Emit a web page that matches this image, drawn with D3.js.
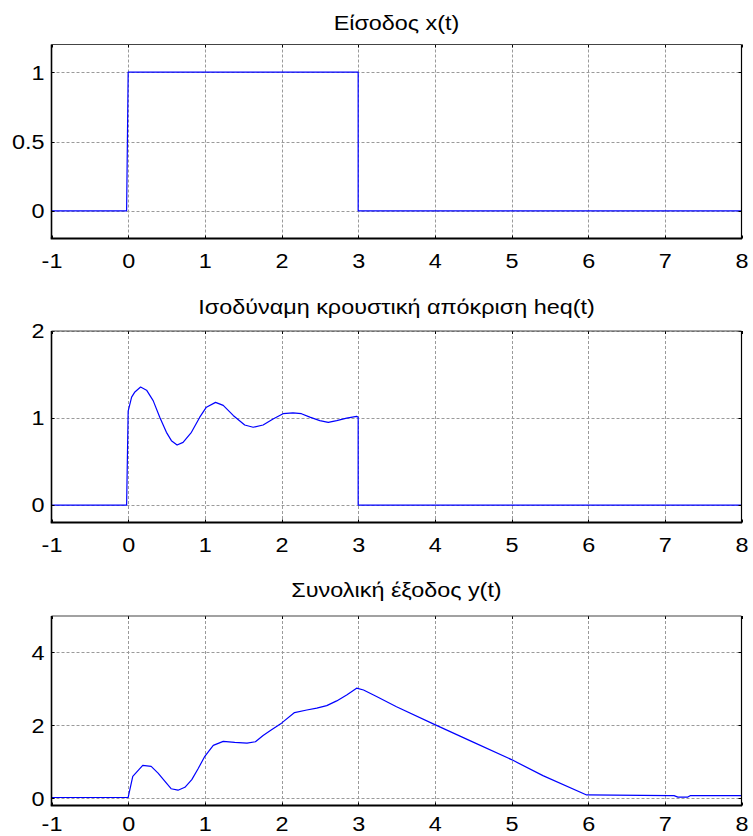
<!DOCTYPE html>
<html>
<head>
<meta charset="utf-8">
<script src="https://cdn.jsdelivr.net/npm/d3@7/dist/d3.min.js"></script>
<style>
  html, body { margin: 0; padding: 0; background: #fff; }
  svg { display: block; }
  text { font-family: "Liberation Sans", Arial, Helvetica, sans-serif; fill: #000; }
</style>
</head>
<body>
<script>
// ---------- data ----------
const titles = ["Είσοδος x(t)", "Ισοδύναμη κρουστική απόκριση heq(t)", "Συνολική έξοδος y(t)"];
const xTickValues = [-1, 0, 1, 2, 3, 4, 5, 6, 7, 8];
const yTicks1 = [0, 0.5, 1];
const yTicks2 = [0, 1, 2];
const yTicks3 = [0, 2, 4];

// Input x(t)
const tX    = [-1, -0.02, 0.0, 3.0, 3.0, 8];
const xVals = [ 0,  0,    1,   1,   0,   0];

// Equivalent impulse response heq(t)
const tH    = [-1, -0.02, 0.0, 0.045, 0.088, 0.162, 0.24, 0.326, 0.412, 0.499, 0.564, 0.638, 0.716, 0.825, 0.934, 1.02, 1.14, 1.24, 1.37, 1.52, 1.63, 1.76, 1.89, 2.02, 2.15, 2.26, 2.37, 2.50, 2.61, 2.72, 2.85, 2.98, 3.0, 3.0, 8];
const hVals = [ 0,  0,    1.08, 1.24, 1.30, 1.356, 1.32, 1.20, 1.01, 0.836, 0.74, 0.69, 0.72, 0.836, 1.01, 1.125, 1.18, 1.145, 1.03, 0.92, 0.894, 0.92, 0.99, 1.05, 1.06, 1.05, 1.01, 0.97, 0.95, 0.97, 1.0, 1.02, 1.01, 0, 0];

// Total output y(t)
const tY    = [-1, 0.0, 0.06, 0.19, 0.30, 0.39, 0.48, 0.56, 0.65, 0.74, 0.83, 0.91, 1.0, 1.11, 1.24, 1.39, 1.55, 1.66, 1.76, 1.87, 2.0, 2.17, 2.33, 2.46, 2.59, 2.72, 2.85, 2.98, 3.07, 3.24, 3.5, 4.0, 4.5, 5.0, 5.41, 5.98, 7.06, 7.12, 7.17, 7.30, 7.33, 8];
const yVals = [0.02, 0.02, 0.60, 0.90, 0.875, 0.69, 0.46, 0.26, 0.22, 0.30, 0.51, 0.80, 1.15, 1.45, 1.56, 1.53, 1.51, 1.55, 1.72, 1.88, 2.06, 2.35, 2.42, 2.47, 2.54, 2.67, 2.83, 3.02, 2.97, 2.79, 2.51, 2.02, 1.54, 1.06, 0.62, 0.09, 0.07, 0.07, 0.03, 0.03, 0.07, 0.07];

// ---------- layout ----------
const W = 753, H = 836;
const left = 51.5, right = 741.5;
const panels = [
  { title: titles[0], t: tX, v: xVals, yDomain: [-0.2, 1.2], yTicks: yTicks1, top: 44.5, bottom: 238.5, titleY: 29.5, labelOff: 29.5 },
  { title: titles[1], t: tH, v: hVals, yDomain: [-0.2, 2],   yTicks: yTicks2, top: 331,  bottom: 522.5, titleY: 313.5, labelOff: 29.5 },
  { title: titles[2], t: tY, v: yVals, yDomain: [-0.2, 5],   yTicks: yTicks3, top: 616,  bottom: 805.5, titleY: 597, labelOff: 25.5 }
];
const FS = 19.5, SX = 1.2;

const svg = d3.select("body").append("svg").attr("width", W).attr("height", H);

const x = d3.scaleLinear().domain([-1, 8]).range([left, right]);

panels.forEach(p => {
  const y = d3.scaleLinear().domain(p.yDomain).range([p.bottom, p.top]);
  const g = svg.append("g");

  // grid
  g.append("g").selectAll("line").data(xTickValues.filter(d => d > -1 && d < 8)).join("line")
    .attr("x1", d => Math.round(x(d)) + 0.5).attr("x2", d => Math.round(x(d)) + 0.5)
    .attr("y1", p.top).attr("y2", p.bottom)
    .attr("stroke", "#9a9a9a").attr("stroke-width", 1).attr("stroke-dasharray", "3,2");
  g.append("g").selectAll("line").data(p.yTicks).join("line")
    .attr("x1", left).attr("x2", right)
    .attr("y1", d => Math.round(y(d)) + 0.5).attr("y2", d => Math.round(y(d)) + 0.5)
    .attr("stroke", "#9a9a9a").attr("stroke-width", 1).attr("stroke-dasharray", "3,2");

  // data line
  const pts = p.t.map((t, i) => [t, p.v[i]]);
  g.append("path").datum(pts)
    .attr("d", d3.line().x(d => x(d[0])).y(d => y(d[1])))
    .attr("fill", "none").attr("stroke", "#0000ff").attr("stroke-width", 1.2)
    .attr("stroke-linejoin", "round");

  // inner ticks
  const tk = 3;
  const tg = g.append("g").attr("stroke", "#000").attr("stroke-width", 1);
  xTickValues.forEach(d => {
    const xx = Math.round(x(d)) + 0.5;
    tg.append("line").attr("x1", xx).attr("x2", xx).attr("y1", p.bottom).attr("y2", p.bottom - tk);
    tg.append("line").attr("x1", xx).attr("x2", xx).attr("y1", p.top).attr("y2", p.top + tk);
  });
  p.yTicks.forEach(d => {
    const yy = Math.round(y(d)) + 0.5;
    tg.append("line").attr("x1", left).attr("x2", left + tk).attr("y1", yy).attr("y2", yy);
    tg.append("line").attr("x1", right).attr("x2", right - tk).attr("y1", yy).attr("y2", yy);
  });

  // box
  g.append("line").attr("x1", left).attr("x2", right).attr("y1", p.top).attr("y2", p.top).attr("stroke", "#444").attr("stroke-width", 1.2);
  g.append("line").attr("x1", right).attr("x2", right).attr("y1", p.top).attr("y2", p.bottom).attr("stroke", "#000").attr("stroke-width", 1.2);
  g.append("line").attr("x1", left).attr("x2", left).attr("y1", p.top).attr("y2", p.bottom).attr("stroke", "#000").attr("stroke-width", 1.6);
  g.append("line").attr("x1", left - 0.8).attr("x2", right + 0.6).attr("y1", p.bottom).attr("y2", p.bottom).attr("stroke", "#000").attr("stroke-width", 1.8);

  // axes labels via d3 axes
  const ax = g.append("g").attr("transform", `translate(0,${p.bottom})`)
    .call(d3.axisBottom(x).tickValues(xTickValues).tickFormat(d => String(d)).tickSize(0));
  ax.select(".domain").remove();
  ax.selectAll("text")
    .attr("y", null).attr("dy", null)
    .attr("text-anchor", "middle")
    .attr("transform", `translate(0,${p.labelOff}) scale(${SX},1)`)
    .style("font-size", FS + "px").style("font-family", null);

  const ay = g.append("g").attr("transform", `translate(${left},0)`)
    .call(d3.axisLeft(y).tickValues(p.yTicks).tickFormat(d => String(d)).tickSize(0));
  ay.select(".domain").remove();
  ay.selectAll("text")
    .attr("x", null).attr("dy", "0.35em")
    .attr("text-anchor", "end")
    .attr("transform", `translate(-7,0) scale(${SX},1)`)
    .style("font-size", FS + "px").style("font-family", null);
  ax.attr("font-family", null).attr("font-size", null);
  ay.attr("font-family", null).attr("font-size", null);

  // title
  g.append("text")
    .attr("text-anchor", "middle")
    .attr("transform", `translate(${(left + right) / 2},${p.titleY}) scale(${SX},1)`)
    .style("font-size", FS + "px")
    .text(p.title);
});
</script>
</body>
</html>
